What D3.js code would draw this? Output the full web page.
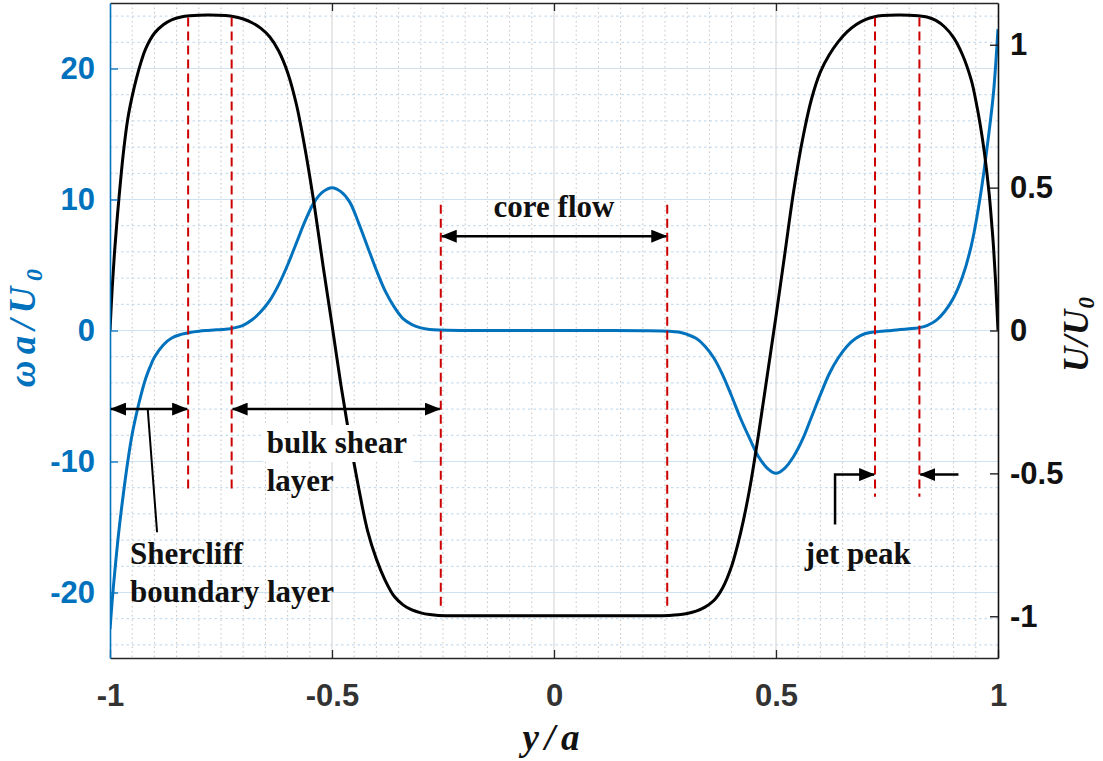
<!DOCTYPE html>
<html>
<head>
<meta charset="utf-8">
<script src="https://cdn.jsdelivr.net/npm/d3@7"></script>
<style>
  html, body { margin: 0; padding: 0; background: #ffffff; }
  svg { display: block; }
</style>
</head>
<body>
<svg id="chart" width="1103" height="761"></svg>
<script>
// ---------------- DATA ----------------
// velocity profile U/U0 (right axis)
const uX = [-1, -0.995, -0.99, -0.985, -0.98, -0.97, -0.96, -0.95, -0.94, -0.93, -0.92, -0.90, -0.88, -0.86, -0.84, -0.82, -0.78, -0.74, -0.72, -0.70, -0.68, -0.66, -0.64, -0.62, -0.60, -0.58, -0.56, -0.54, -0.52, -0.50, -0.48, -0.46, -0.44, -0.42, -0.40, -0.38, -0.36, -0.34, -0.32, -0.30, -0.28, -0.26, -0.20, -0.10, 0, 0.10, 0.20, 0.26, 0.28, 0.30, 0.32, 0.34, 0.36, 0.38, 0.40, 0.42, 0.44, 0.46, 0.48, 0.50, 0.52, 0.54, 0.56, 0.58, 0.60, 0.62, 0.64, 0.66, 0.68, 0.70, 0.72, 0.74, 0.78, 0.82, 0.84, 0.86, 0.88, 0.90, 0.92, 0.94, 0.95, 0.96, 0.97, 0.98, 0.985, 0.99, 0.995, 1.0];
const uVal = [0, 0.15, 0.27, 0.37, 0.46, 0.62, 0.74, 0.82, 0.885, 0.94, 0.985, 1.04, 1.07, 1.088, 1.097, 1.101, 1.104, 1.102, 1.098, 1.09, 1.077, 1.057, 1.027, 0.978, 0.903, 0.79, 0.63, 0.44, 0.225, 0.02, -0.19, -0.38, -0.55, -0.70, -0.80, -0.875, -0.93, -0.96, -0.978, -0.988, -0.994, -0.997, -0.998, -0.998, -0.998, -0.998, -0.998, -0.997, -0.995, -0.99, -0.982, -0.968, -0.945, -0.90, -0.825, -0.71, -0.56, -0.37, -0.16, 0.05, 0.27, 0.49, 0.67, 0.81, 0.905, 0.965, 1.01, 1.045, 1.07, 1.087, 1.097, 1.102, 1.104, 1.101, 1.097, 1.085, 1.062, 1.025, 0.965, 0.875, 0.805, 0.72, 0.615, 0.48, 0.39, 0.29, 0.16, 0];

// vorticity profile omega a / U0 (left axis)
const wX = [-1, -0.995, -0.99, -0.98, -0.97, -0.96, -0.95, -0.94, -0.93, -0.92, -0.91, -0.90, -0.88, -0.86, -0.84, -0.82, -0.80, -0.78, -0.76, -0.74, -0.72, -0.70, -0.68, -0.66, -0.64, -0.62, -0.60, -0.58, -0.56, -0.54, -0.52, -0.50, -0.48, -0.46, -0.44, -0.42, -0.40, -0.38, -0.36, -0.34, -0.32, -0.30, -0.28, -0.26, -0.20, -0.10, 0, 0.10, 0.20, 0.26, 0.28, 0.30, 0.32, 0.34, 0.36, 0.38, 0.40, 0.42, 0.44, 0.46, 0.48, 0.50, 0.52, 0.54, 0.56, 0.58, 0.60, 0.62, 0.64, 0.66, 0.68, 0.70, 0.72, 0.74, 0.76, 0.78, 0.80, 0.82, 0.84, 0.86, 0.88, 0.90, 0.92, 0.94, 0.96, 0.98, 0.99, 0.995, 1.0];
const wVal = [-22.8, -20.6, -18.7, -15.3, -12.5, -10.0, -7.9, -6.3, -4.9, -3.7, -2.8, -2.05, -1.1, -0.55, -0.3, -0.15, -0.06, 0.0, 0.05, 0.1, 0.2, 0.4, 0.82, 1.45, 2.3, 3.5, 5.0, 6.7, 8.4, 9.8, 10.6, 10.9, 10.6, 9.8, 8.2, 6.4, 4.6, 3.0, 1.8, 0.9, 0.45, 0.2, 0.08, 0.03, 0.0, 0, 0, 0, -0.01, -0.05, -0.12, -0.3, -0.6, -1.2, -2.1, -3.4, -5.0, -6.7, -8.2, -9.6, -10.5, -10.9, -10.5, -9.6, -8.3, -6.6, -4.9, -3.3, -2.1, -1.2, -0.6, -0.25, -0.12, -0.05, 0.0, 0.07, 0.13, 0.2, 0.38, 0.75, 1.45, 2.5, 4.1, 6.5, 10.2, 15.2, 18.2, 20.4, 23.0];

// tick labels
const xTicks = [-1, -0.5, 0, 0.5, 1];
const xTickLabels = ["-1", "-0.5", "0", "0.5", "1"];
const leftTicks = [-20, -10, 0, 10, 20];
const leftTickLabels = ["-20", "-10", "0", "10", "20"];
const rightTicks = [-1, -0.5, 0, 0.5, 1];
const rightTickLabels = ["-1", "-0.5", "0", "0.5", "1"];

// region markers (red dashed): x position, top and bottom in omega units
const regionX = [-0.824, -0.726, -0.255, 0.255, 0.723, 0.823];
const regionTop = [23.9, 23.9, 9.6, 9.6, 23.9, 23.9];
const regionBottom = [-12.4, -12.4, -21.4, -21.4, -12.7, -12.7];

// annotation texts: x, omega (baseline), text
const labelX = [0, -0.647, -0.647, -0.955, -0.955, 0.565];
const labelW = [8.64, -9.33, -12.28, -17.86, -20.75, -17.86];
const labelText = ["core flow", "bulk shear", "layer", "Shercliff", "boundary layer", "jet peak"];

// ---------------- CHART ----------------
const svg = d3.select("#chart");
svg.append("rect").attr("width", 1103).attr("height", 761).attr("fill", "#ffffff");

const L = 110, R = 998, T = 3, B = 658;
const x = d3.scaleLinear().domain([-1, 1]).range([L, R]);
const yL = d3.scaleLinear().domain([-25, 25]).range([B, T]);
const yR = d3.scaleLinear().domain([-1.146, 1.146]).range([B, T]);

const BLUE = "#0072BD";
const AXGRAY = "#262626";

// grid
const grid = svg.append("g");
const minorV = d3.range(-19, 20).filter(i => i % 10 !== 0).map(i => i * 0.05);
grid.selectAll(".mv").data(minorV).join("line")
  .attr("x1", d => x(d)).attr("x2", d => x(d)).attr("y1", T).attr("y2", B)
  .attr("stroke", "#c4c4c4").attr("stroke-width", 1).attr("stroke-dasharray", "1.5,3");
const minorH = d3.range(-12, 13).map(i => i * 2).filter(v => v % 10 !== 0);
grid.selectAll(".mh").data(minorH).join("line")
  .attr("x1", L).attr("x2", R).attr("y1", d => yL(d)).attr("y2", d => yL(d))
  .attr("stroke", "#bcd4ea").attr("stroke-width", 1).attr("stroke-dasharray", "2.5,3");
grid.selectAll(".Mh").data(leftTicks).join("line")
  .attr("x1", L).attr("x2", R).attr("y1", d => yL(d)).attr("y2", d => yL(d))
  .attr("stroke", "#cfe2f1").attr("stroke-width", 1.2);
grid.selectAll(".Mv").data([-0.5, 0, 0.5]).join("line")
  .attr("x1", d => x(d)).attr("x2", d => x(d)).attr("y1", T).attr("y2", B)
  .attr("stroke", "#d9d9d9").attr("stroke-width", 1.2);

// clip
svg.append("clipPath").attr("id", "clip").append("rect")
  .attr("x", L).attr("y", T).attr("width", R - L).attr("height", B - T);

const plot = svg.append("g").attr("clip-path", "url(#clip)");

const wData = wX.map((d, i) => [d, wVal[i]]);
const uData = uX.map((d, i) => [d, uVal[i]]);
const smooth = d3.curveCatmullRom.alpha(0.5);

plot.append("path").datum(wData)
  .attr("fill", "none").attr("stroke", BLUE).attr("stroke-width", 3)
  .attr("d", d3.line().x(d => x(d[0])).y(d => yL(d[1])).curve(smooth));

plot.append("path").datum(uData)
  .attr("fill", "none").attr("stroke", "#000").attr("stroke-width", 3)
  .attr("d", d3.line().x(d => x(d[0])).y(d => yR(d[1])).curve(smooth));

// red dashed region markers
svg.append("g").selectAll("line").data(regionX).join("line")
  .attr("x1", d => x(d)).attr("x2", d => x(d))
  .attr("y1", (d, i) => yL(regionTop[i])).attr("y2", (d, i) => yL(regionBottom[i]))
  .attr("stroke", "#cc0000").attr("stroke-width", 2).attr("stroke-dasharray", "9,5");

// axes
function styleAxis(g, color) {
  g.selectAll(".domain").attr("stroke", color).attr("stroke-width", 1.6);
  g.selectAll(".tick line").attr("stroke", color).attr("stroke-width", 1.3);
  g.selectAll(".tick text").attr("fill", color)
    .attr("font-family", "'Liberation Sans', Arial, sans-serif")
    .attr("font-weight", "bold").attr("font-size", 31);
}

const gB = svg.append("g").attr("transform", `translate(0,${B})`)
  .call(d3.axisBottom(x).tickValues(xTicks).tickFormat((d, i) => xTickLabels[i])
    .tickSize(-8).tickSizeOuter(0).tickPadding(26));
styleAxis(gB, AXGRAY);
gB.selectAll(".tick text").attr("fill", "#333333");

const gT = svg.append("g").attr("transform", `translate(0,${T})`)
  .call(d3.axisTop(x).tickValues([-0.5, 0, 0.5]).tickFormat("").tickSize(-8).tickSizeOuter(0));
styleAxis(gT, AXGRAY);

const gL = svg.append("g").attr("transform", `translate(${L},0)`)
  .call(d3.axisLeft(yL).tickValues(leftTicks).tickFormat((d, i) => leftTickLabels[i])
    .tickSize(-8).tickSizeOuter(0).tickPadding(15));
styleAxis(gL, BLUE);

const gR = svg.append("g").attr("transform", `translate(${R},0)`)
  .call(d3.axisRight(yR).tickValues(rightTicks).tickFormat((d, i) => rightTickLabels[i])
    .tickSize(-8).tickSizeOuter(0).tickPadding(12));
styleAxis(gR, "#111111");

// axis titles
const serif = "'Liberation Serif', 'Times New Roman', serif";
const tl = svg.append("text").attr("transform", "translate(35,325) rotate(-90)")
  .attr("text-anchor", "middle").attr("font-family", serif).attr("font-weight", "bold")
  .attr("font-style", "italic").attr("font-size", 37).attr("letter-spacing", 6).attr("fill", BLUE);
tl.append("tspan").text("ωa/U");
tl.append("tspan").attr("font-size", 24).attr("dy", 7).text("0");

const tr = svg.append("text").attr("transform", "translate(1088,334) rotate(-90)")
  .attr("text-anchor", "middle").attr("font-family", serif).attr("font-weight", "bold")
  .attr("font-style", "italic").attr("font-size", 35).attr("letter-spacing", 1).attr("fill", "#111");
tr.append("tspan").text("U/U");
tr.append("tspan").attr("font-size", 23).attr("dy", 6).text("0");

svg.append("text").attr("x", x(0)).attr("y", 750).attr("text-anchor", "middle")
  .attr("font-family", serif).attr("font-weight", "bold").attr("font-style", "italic")
  .attr("font-size", 37).attr("letter-spacing", 6).attr("fill", "#111").text("y/a");

// arrows
const defs = svg.append("defs");
defs.append("marker").attr("id", "ah").attr("markerUnits", "userSpaceOnUse")
  .attr("markerWidth", 16).attr("markerHeight", 13).attr("viewBox", "0 0 16 13")
  .attr("refX", 15).attr("refY", 6.5).attr("orient", "auto-start-reverse")
  .append("path").attr("d", "M0,0 L16,6.5 L0,13 Z").attr("fill", "#000");

const ann = svg.append("g");
const arrowStyle = s => s.attr("fill", "none").attr("stroke", "#000").attr("stroke-width", 2.5);

// white box behind "bulk shear"
ann.append("rect").attr("x", x(-0.655)).attr("y", 425).attr("width", 150).attr("height", 37).attr("fill", "#fff");

// double-headed arrows
const dbl = [[-1, -0.824, -6], [-0.726, -0.255, -6], [-0.255, 0.255, 7.2]];
dbl.forEach(a => {
  ann.append("line").attr("x1", x(a[0]) + 1).attr("x2", x(a[1]) - 1)
    .attr("y1", yL(a[2])).attr("y2", yL(a[2]))
    .call(arrowStyle).attr("marker-start", "url(#ah)").attr("marker-end", "url(#ah)");
});
// Shercliff leader
ann.append("line").attr("x1", x(-0.915)).attr("y1", yL(-6)).attr("x2", x(-0.894)).attr("y2", yL(-15.4))
  .attr("stroke", "#000").attr("stroke-width", 2);
// jet peak arrows
ann.append("path").attr("d", d3.line()([[x(0.633), yL(-14.8)], [x(0.633), yL(-11)], [x(0.721), yL(-11)]]))
  .call(arrowStyle).attr("marker-end", "url(#ah)");
ann.append("line").attr("x1", x(0.911)).attr("x2", x(0.825)).attr("y1", yL(-11)).attr("y2", yL(-11))
  .call(arrowStyle).attr("marker-end", "url(#ah)");

// labels
ann.selectAll("text.lbl").data(labelText).join("text").attr("class", "lbl")
  .attr("x", (d, i) => x(labelX[i])).attr("y", (d, i) => yL(labelW[i]))
  .attr("text-anchor", (d, i) => i === 0 ? "middle" : "start")
  .attr("font-family", serif).attr("font-weight", "bold").attr("font-size", 31)
  .attr("fill", "#111").text(d => d);
</script>
</body>
</html>
